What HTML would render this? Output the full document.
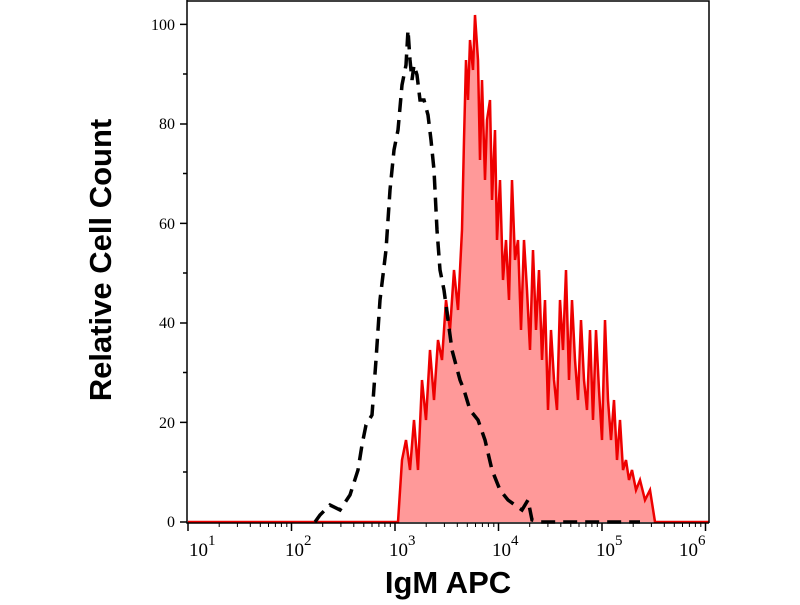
<!DOCTYPE html>
<html><head><style>body{margin:0;background:#fff}</style></head><body>
<svg width="800" height="600" xmlns="http://www.w3.org/2000/svg">
<rect width="800" height="600" fill="#fff"/>
<polygon fill="#f99" points="398,522 402,460 406,440 410,470 414,420 418,470 422,380 426,420 430,350 434,400 438,340 442,360 446,300 450,330 454,270 458,310 462,230 464,140 466,60 468,100 470,40 473,70 475,15 478,60 480,160 482,80 485,180 487,120 490,100 492,200 495,130 497,240 500,180 503,280 506,240 509,300 512,180 515,260 518,240 521,330 524,240 527,290 530,350 533,250 536,330 539,270 542,360 545,300 548,410 551,330 554,380 557,410 560,300 563,350 566,270 569,380 572,300 575,360 578,400 581,320 584,380 587,410 590,330 593,420 596,330 599,390 602,440 605,320 608,400 611,440 614,400 617,460 620,420 623,470 626,460 629,480 632,470 636,490 640,480 645,500 650,490 655,522"/>
<polyline fill="none" stroke="#e00" stroke-width="2.5" points="188,522 398,522 402,460 406,440 410,470 414,420 418,470 422,380 426,420 430,350 434,400 438,340 442,360 446,300 450,330 454,270 458,310 462,230 464,140 466,60 468,100 470,40 473,70 475,15 478,60 480,160 482,80 485,180 487,120 490,100 492,200 495,130 497,240 500,180 503,280 506,240 509,300 512,180 515,260 518,240 521,330 524,240 527,290 530,350 533,250 536,330 539,270 542,360 545,300 548,410 551,330 554,380 557,410 560,300 563,350 566,270 569,380 572,300 575,360 578,400 581,320 584,380 587,410 590,330 593,420 596,330 599,390 602,440 605,320 608,400 611,440 614,400 617,460 620,420 623,470 626,460 629,480 632,470 636,490 640,480 645,500 650,490 655,522 709,522"/>
<polyline fill="none" stroke="#000" stroke-width="3.5" stroke-dasharray="14,8" points="315,522 320,515 330,505 340,510 350,495 358,470 362,445 366,425 372,415 376,360 380,300 386,250 390,190 394,150 398,130 402,85 406,65 408,30 410,60 412,80 414,65 417,75 420,100 424,100 428,115 431,140 434,170 437,230 440,270 444,290 448,320 452,350 456,365 460,380 464,390 470,410 478,420 485,440 492,470 500,490 508,500 515,505 522,510 528,500 532,520 540,522 640,522"/>
<g stroke="#000" stroke-width="1.5" fill="none">
<path d="M187,1 H709 V523 M187,0 V523 H709"/>
</g>
<g stroke="#000" stroke-width="1.5">
<path d="M180,522H187M180,422.4H187M180,323H187M180,223.4H187M180,124H187M180,24.4H187"/>
<path d="M183,472H187M183,372.5H187M183,273H187M183,173.5H187M183,74H187"/>
<path d="M188,523V531M291.5,523V531M395,523V531M498.5,523V531M602,523V531M705.5,523V531"/>
</g>
<g stroke="#000" stroke-width="1">
<path d="M219.2,523v4M237.4,523v4M250.3,523v4M260.3,523v4M268.5,523v4M275.4,523v4M281.4,523v4M286.8,523v4
M322.7,523v4M340.9,523v4M353.8,523v4M363.8,523v4M372,523v4M378.9,523v4M384.9,523v4M390.3,523v4
M426.2,523v4M444.4,523v4M457.3,523v4M467.3,523v4M475.5,523v4M482.4,523v4M488.4,523v4M493.8,523v4
M529.7,523v4M547.9,523v4M560.8,523v4M570.8,523v4M579,523v4M585.9,523v4M591.9,523v4M597.3,523v4
M633.2,523v4M651.4,523v4M664.3,523v4M674.3,523v4M682.5,523v4M689.4,523v4M695.4,523v4M700.8,523v4"/>
</g>
<g font-family="Liberation Serif,serif" font-size="16" text-anchor="end" fill="#000">
<text x="175" y="527">0</text><text x="175" y="428">20</text><text x="175" y="328">40</text>
<text x="175" y="229">60</text><text x="175" y="129">80</text><text x="175" y="30">100</text>
</g>
<g font-family="Liberation Serif,serif" font-size="19" fill="#000">
<text x="189" y="556">10<tspan dy="-11" font-size="15">1</tspan></text>
<text x="285" y="556">10<tspan dy="-11" font-size="15">2</tspan></text>
<text x="389" y="556">10<tspan dy="-11" font-size="15">3</tspan></text>
<text x="492" y="556">10<tspan dy="-11" font-size="15">4</tspan></text>
<text x="596" y="556">10<tspan dy="-11" font-size="15">5</tspan></text>
<text x="679" y="556">10<tspan dy="-11" font-size="15">6</tspan></text>
</g>
<text x="448" y="593" font-family="Liberation Sans,sans-serif" font-weight="bold" font-size="31" text-anchor="middle">IgM APC</text>
<text transform="translate(111,260) rotate(-90)" font-family="Liberation Sans,sans-serif" font-weight="bold" font-size="31" text-anchor="middle">Relative Cell Count</text>
</svg>
</body></html>
